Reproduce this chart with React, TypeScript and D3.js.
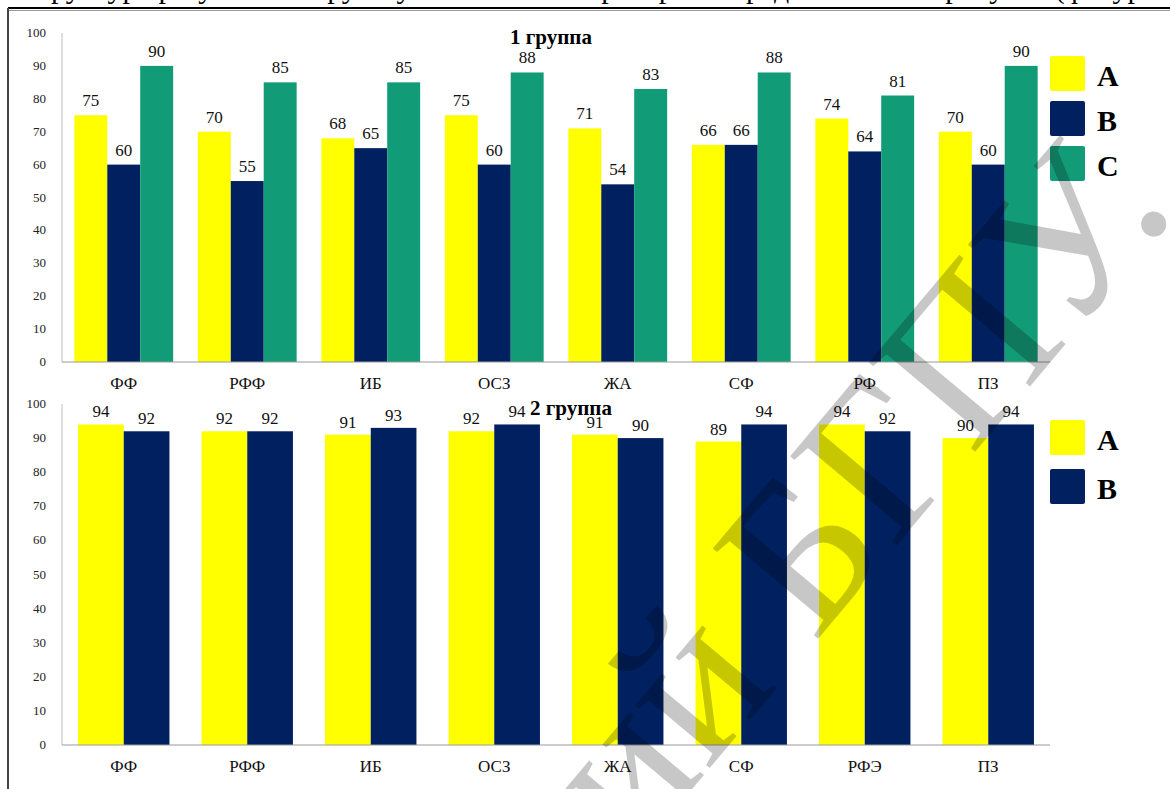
import React from "react";
import * as d3 from "d3";

const categories1 = ["ФФ", "РФФ", "ИБ", "ОСЗ", "ЖА", "СФ", "РФ", "ПЗ"];
const seriesA1 = [75, 70, 68, 75, 71, 66, 74, 70];
const seriesB1 = [60, 55, 65, 60, 54, 66, 64, 60];
const seriesC1 = [90, 85, 85, 88, 83, 88, 81, 90];

const categories2 = ["ФФ", "РФФ", "ИБ", "ОСЗ", "ЖА", "СФ", "РФЭ", "ПЗ"];
const seriesA2 = [94, 92, 91, 92, 91, 89, 94, 90];
const seriesB2 = [92, 92, 93, 94, 90, 94, 92, 94];

const yTicks = [0, 10, 20, 30, 40, 50, 60, 70, 80, 90, 100];
const seriesNames1 = ["A", "B", "C"];
const seriesNames2 = ["A", "B"];

const COLORS: Record<string, string> = { A: "#FFFF00", B: "#002060", C: "#129B77" };
const FONT = "'Liberation Serif', 'DejaVu Serif', serif";

type PanelProps = {
  title: string;
  titleX: number;
  cats: string[];
  names: string[];
  values: number[][];
  top: number;
  bottom: number;
  inner: number;
  labelGap: number;
  legendTop: number;
  legendStep: number;
};

function Panel({ title, titleX, cats, names, values, top, bottom, inner, labelGap, legendTop, legendStep }: PanelProps) {
  const left = 62;
  const right = 1050;
  const x0 = d3.scaleBand<string>().domain(cats).range([left, right]).paddingInner(1 - inner).paddingOuter((1 - inner) / 2);
  const x1 = d3.scaleBand<string>().domain(names).range([0, x0.bandwidth()]);
  const y = d3.scaleLinear().domain([0, 100]).range([bottom, top]);

  return (
    <g fontFamily={FONT}>
      <line x1={left} x2={left} y1={top} y2={bottom} stroke="#bfbfbf" strokeWidth={1} />
      {yTicks.map((t) => (
        <text key={t} x={46} y={y(t) + 4} textAnchor="end" fontSize={13} fill="#222">
          {t}
        </text>
      ))}
      {cats.map((c, i) => (
        <g key={c + i}>
          {names.map((n, j) => {
            const v = values[j][i];
            const bx = (x0(c) as number) + (x1(n) as number);
            return (
              <g key={n}>
                <rect x={bx} y={y(v)} width={x1.bandwidth()} height={bottom - y(v)} fill={COLORS[n]} />
                <text x={bx + x1.bandwidth() / 2} y={y(v) - labelGap} textAnchor="middle" fontSize={17} fill="#111">
                  {v}
                </text>
              </g>
            );
          })}
          <text x={(x0(c) as number) + x0.bandwidth() / 2} y={bottom + 27} textAnchor="middle" fontSize={17} fill="#111">
            {c}
          </text>
        </g>
      ))}
      <line x1={left} x2={right} y1={bottom} y2={bottom} stroke="#9a9a9a" strokeWidth={1.2} />
      <text x={titleX} y={top + 11} textAnchor="middle" fontSize={21} fontWeight="bold" fill="#000">
        {title}
      </text>
      {names.map((n, j) => (
        <g key={n}>
          <rect x={1050} y={legendTop + j * legendStep} width={35} height={35} rx={2} fill={COLORS[n]} />
          <text x={1097} y={legendTop + j * legendStep + 30} fontSize={30} fontWeight="bold" fill="#000">
            {n}
          </text>
        </g>
      ))}
    </g>
  );
}

export default function App() {
  return (
    <svg width={1170} height={789} style={{ position: "absolute", left: 0, top: 0, background: "#fff" }}>
      <rect x={0} y={0} width={1170} height={789} fill="#fff" />
      {/* running text of the page above the figure frame */}
      <text x={18} y={-2} fontSize={30} fontFamily={FONT} fill="#000">
        Структура результатов групп участников по критериям представлена на рисунке (фигура 1)
      </text>
      {/* figure frame */}
      <line x1={8} x2={1170} y1={8} y2={8} stroke="#000" strokeWidth={2} />
      <line x1={9} x2={1170} y1={10.5} y2={10.5} stroke="#999" strokeWidth={1} />
      <line x1={8} x2={8} y1={8} y2={789} stroke="#444" strokeWidth={2} />

      <Panel
        title="1 группа"
        titleX={551}
        cats={categories1}
        names={seriesNames1}
        values={[seriesA1, seriesB1, seriesC1]}
        top={33}
        bottom={362}
        inner={0.8}
        labelGap={9}
        legendTop={56}
        legendStep={45}
      />
      <Panel
        title="2 группа"
        titleX={571}
        cats={categories2}
        names={seriesNames2}
        values={[seriesA2, seriesB2]}
        top={404}
        bottom={745}
        inner={0.74}
        labelGap={7}
        legendTop={420}
        legendStep={49}
      />

      {/* repository watermark */}
      <text
        transform="translate(1178,210) rotate(-50)"
        textAnchor="end"
        fontSize={212}
        fontFamily={FONT}
        fill="#000"
        fillOpacity={0.22}
      >
        Репозиторий БГПУ.
      </text>
    </svg>
  );
}
